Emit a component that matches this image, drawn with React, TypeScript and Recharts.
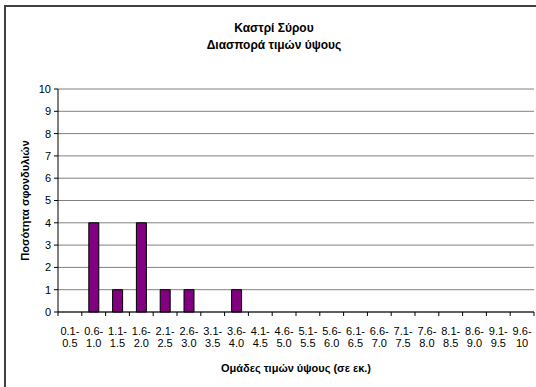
import { BarChart, Bar, XAxis, YAxis, CartesianGrid, Label } from "recharts";

const groups = [
  "0.1-|0.5", "0.6-|1.0", "1.1-|1.5", "1.6-|2.0", "2.1-|2.5",
  "2.6-|3.0", "3.1-|3.5", "3.6-|4.0", "4.1-|4.5", "4.6-|5.0",
  "5.1-|5.5", "5.6-|6.0", "6.1-|6.5", "6.6-|7.0", "7.1-|7.5",
  "7.6-|8.0", "8.1-|8.5", "8.6-|9.0", "9.1-|9.5", "9.6-|10",
];
const counts = [0, 4, 1, 4, 1, 1, 0, 1, 0, 0, 0, 0, 0, 0, 0, 0, 0, 0, 0, 0];
const yTicks = [0, 1, 2, 3, 4, 5, 6, 7, 8, 9, 10];

const title = ["Καστρί Σύρου", "Διασπορά τιμών ύψους"];
const xTitle = "Ομάδες τιμών ύψους (σε εκ.)";
const yTitle = "Ποσότητα σφονδυλιών";

const data = groups.map((g, i) => ({ group: g, count: counts[i] }));

const font = "Arial, 'Liberation Sans', sans-serif";

// tick marks sit on the category boundaries, labels in the middle
function GroupTick({ x, y, payload, index }: any) {
  const [a, b] = String(payload.value).split("|");
  const half = payload.offset || 0;
  const last = index === groups.length - 1;
  return (
    <g>
      <line x1={x - half} x2={x - half} y1={y} y2={y + 4} stroke="#000" />
      {last && <line x1={x + half} x2={x + half} y1={y} y2={y + 4} stroke="#000" />}
      <text x={x} y={y} textAnchor="middle" fontSize={11} fontFamily={font} fill="#000">
        <tspan x={x} dy={23}>{a}</tspan>
        <tspan x={x} dy={11.5}>{b}</tspan>
      </text>
    </g>
  );
}

function YTitle({ viewBox }: any) {
  const cx = viewBox.x + 25;
  const cy = viewBox.y + viewBox.height / 2;
  return (
    <text
      x={cx}
      y={cy}
      transform={`rotate(-90 ${cx} ${cy})`}
      textAnchor="middle"
      dominantBaseline="central"
      fontSize={11}
      fontWeight="bold"
      fontFamily={font}
      fill="#000"
    >
      {yTitle}
    </text>
  );
}

export default function App() {
  return (
    <div style={{ position: "absolute", left: 0, top: 0, width: 536, height: 387, background: "#fff" }}>
      <div
        style={{
          position: "absolute",
          left: 4,
          top: 5,
          width: 540,
          height: 390,
          borderLeft: "2px solid #404040",
          borderTop: "2px solid #404040",
        }}
      />
      <div
        style={{
          position: "absolute",
          left: 74,
          top: 20,
          width: 400,
          textAlign: "center",
          fontFamily: font,
          fontWeight: "bold",
          fontSize: 12,
          lineHeight: "17px",
        }}
      >
        {title.map((t) => (
          <div key={t}>{t}</div>
        ))}
      </div>
      <div style={{ position: "absolute", left: 0, top: 0 }}>
        <BarChart
          width={536}
          height={387}
          data={data}
          margin={{ top: 89, right: 2, bottom: 15, left: 0 }}
          barSize={10}
        >
          <CartesianGrid vertical={false} stroke="#808080" />
          <XAxis
            dataKey="group"
            interval={0}
            tickLine={false}
            tickSize={0}
            tickMargin={0}
            axisLine={{ stroke: "#000" }}
            tick={<GroupTick />}
            height={60}
          >
            <Label
              value={xTitle}
              position="insideBottom"
              offset={0}
              fontSize={11}
              fontWeight="bold"
              fontFamily={font}
              fill="#000"
            />
          </XAxis>
          <YAxis
            domain={[0, 10]}
            ticks={yTicks}
            interval={0}
            width={58}
            tickSize={4}
            tickMargin={3}
            axisLine={{ stroke: "#000" }}
            tickLine={{ stroke: "#000" }}
            tick={{ fontSize: 11, fontFamily: font, fill: "#000" }}
          >
            <Label content={<YTitle />} />
          </YAxis>
          <YAxis
            yAxisId="frame"
            orientation="right"
            width={0}
            tick={false}
            tickLine={false}
            axisLine={{ stroke: "#808080" }}
          />
          <Bar dataKey="count" fill="#800080" stroke="#000" strokeWidth={1} isAnimationActive={false} />
        </BarChart>
      </div>
    </div>
  );
}
